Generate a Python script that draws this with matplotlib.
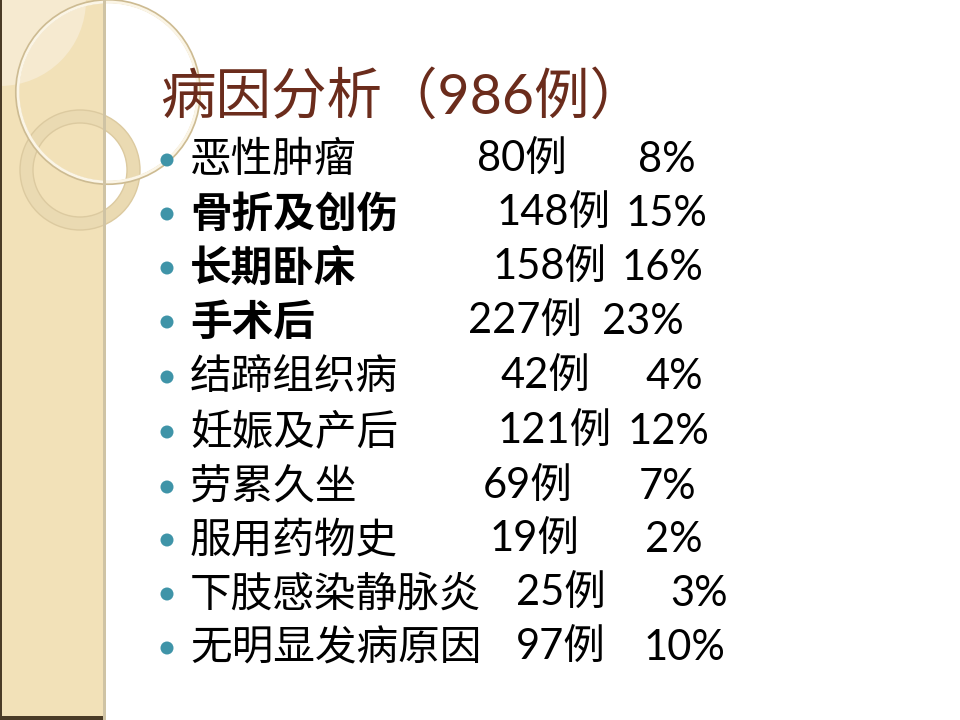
import matplotlib
matplotlib.use("Agg")
import matplotlib.pyplot as plt
from matplotlib.patches import Rectangle, Circle, Wedge

plt.rcParams['font.family'] = ['Lato', 'Noto Sans CJK SC', 'DejaVu Sans']

# slide content
title = "病因分析（986例）"
causes = ["恶性肿瘤", "骨折及创伤", "长期卧床", "手术后", "结蹄组织病",
          "妊娠及产后", "劳累久坐", "服用药物史", "下肢感染静脉炎", "无明显发病原因"]
counts = [80, 148, 158, 227, 42, 121, 69, 19, 25, 97]
percents = [8, 15, 16, 23, 4, 12, 7, 2, 3, 10]

# layout (pixels; the slide lined the columns up with spaces, so right edges vary)
bold_rows = [1, 2, 3]
row_y = [160, 214, 268, 322, 377, 432, 487, 540, 594, 648]
count_right = [567, 611, 607, 582, 590, 612, 573, 580, 606, 606]
pct_right = [696, 707, 703, 684, 703, 709, 696, 703, 728, 725]

fig = plt.figure(figsize=(9.6, 7.2), dpi=100)
ax = fig.add_axes([0, 0, 1, 1])
ax.set_xlim(0, 960)
ax.set_ylim(720, 0)
ax.axis("off")

# left decorative strip
ax.add_patch(Rectangle((0, 0), 106, 720, facecolor="#f2e1b8", edgecolor="none", zorder=1))
ax.add_patch(Rectangle((0, 0), 2, 720, facecolor="#4a3b26", edgecolor="none", zorder=5))
ax.add_patch(Rectangle((0, 716), 106, 4, facecolor="#4a3b26", edgecolor="none", zorder=5))
ax.add_patch(Rectangle((103, 0), 3, 720, facecolor="#cfc3a4", edgecolor="none", zorder=5))
clip = Rectangle((0, 0), 104, 720, transform=ax.transData)

light = Wedge((0, 0), 86, 0, 90, facecolor="#f6ead0", edgecolor="none", zorder=2)
light.set_clip_path(clip)
ax.add_patch(light)
ax.add_patch(Rectangle((0, 0), 18, 84, facecolor="#f6ead0", edgecolor="none", zorder=2))

ring = Wedge((80, 170), 60, 0, 360, width=13, facecolor="#eadab2", edgecolor="#dccaa0",
             linewidth=1, zorder=3)
ring.set_clip_path(clip)
ax.add_patch(ring)

for r, c, lw in [(91, "#cdbb92", 3.0), (90, "#fbf5e6", 2.0)]:
    big = Circle((108, 92), r, facecolor="none", edgecolor=c, linewidth=lw, zorder=4)
    big.set_clip_path(clip)
    ax.add_patch(big)

# title
ax.text(160, 97, title, fontsize=40, color="#6b2c1c", ha="left", va="center", zorder=6)

# bullet rows
for i, cause in enumerate(causes):
    y = row_y[i]
    ax.add_patch(Circle((167, y), 6.5, facecolor="#3f94a8", edgecolor="none", zorder=6))
    weight = "bold" if i in bold_rows else "normal"
    ax.text(190, y, cause, fontsize=30, fontweight=weight, color="black",
            ha="left", va="center", zorder=6)
    ax.text(count_right[i], y, f"{counts[i]}例", fontsize=30, color="black",
            ha="right", va="center", zorder=6)
    ax.text(pct_right[i], y, f"{percents[i]}%", fontsize=30, color="black",
            ha="right", va="center", zorder=6)

fig.savefig("out.png", dpi=100)
